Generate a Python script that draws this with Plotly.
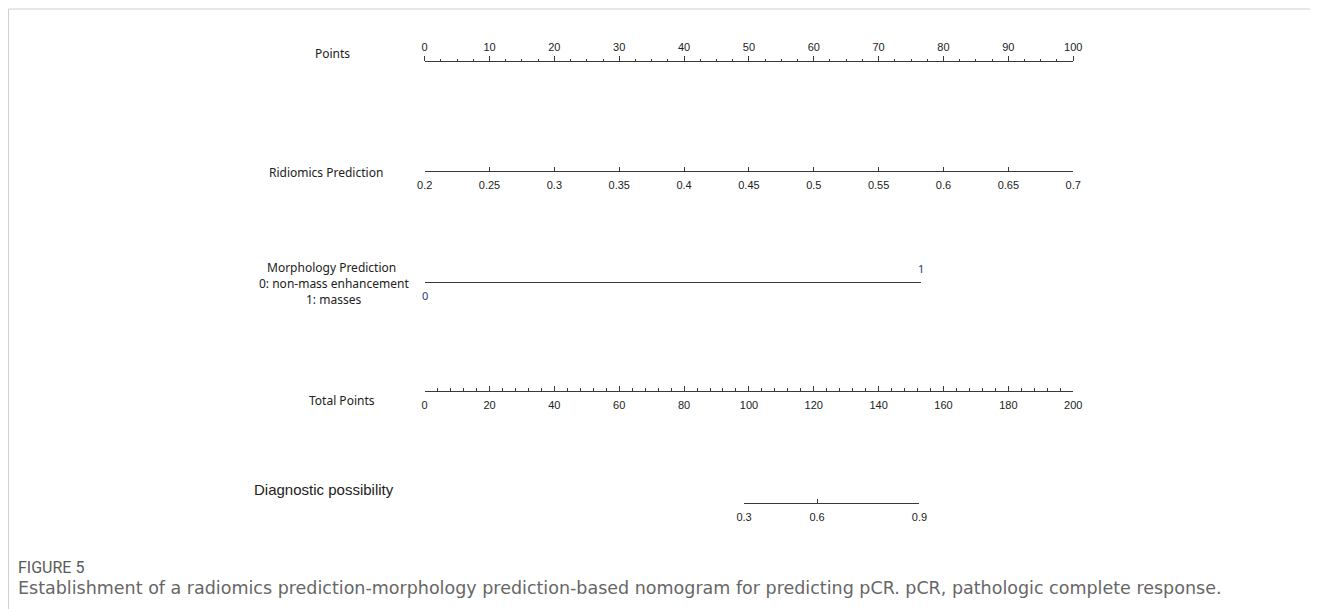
import plotly.graph_objects as go

# ---------------- data ----------------
points_ticks = [0, 10, 20, 30, 40, 50, 60, 70, 80, 90, 100]
ridiomics_ticks = [0.2, 0.25, 0.3, 0.35, 0.4, 0.45, 0.5, 0.55, 0.6, 0.65, 0.7]
ridiomics_tick_text = ["0.2", "0.25", "0.3", "0.35", "0.4", "0.45", "0.5", "0.55", "0.6", "0.65", "0.7"]
morph_levels = ["0", "1"]
morph_points = [0, 76.6]          # points assigned to each morphology level
total_ticks = [0, 20, 40, 60, 80, 100, 120, 140, 160, 180, 200]
diag_labels = ["0.3", "0.6", "0.9"]
diag_total_points = [98.5, 121.0, 152.6]   # total points where probability equals label

# ---------------- layout constants ----------------
W, H = 1319, 609
OFFX, WEFF = 8, 1303          # effective drawing width/offset observed in the viewer


def xpaper(px):
    return (px - OFFX) / WEFF


def ypos(py):
    return 1 - py / H


X0, X1 = 425, 1074            # pixel span of the 0-100 points scale
d0, d1 = xpaper(X0), xpaper(X1)
LINE = "#3a3a3a"
TICKFONT = dict(family="Liberation Sans, Arial, sans-serif", size=11, color="#222222")
LABFONT = dict(family="Noto Sans, DejaVu Sans, sans-serif", size=12, color="#222222")


def sub_domain(lo, hi, vmin, vmax):
    a = d0 + (lo - vmin) / (vmax - vmin) * (d1 - d0)
    b = d0 + (hi - vmin) / (vmax - vmin) * (d1 - d0)
    return [a, b]


fig = go.Figure()

axis_common = dict(showgrid=False, zeroline=False, showline=True, linecolor=LINE,
                   linewidth=1, tickcolor=LINE, tickwidth=1, tickfont=TICKFONT,
                   anchor="free", fixedrange=True)

# Points axis
fig.update_layout(xaxis=dict(axis_common, domain=[d0, d1], range=[0, 100], side="top",
                             position=ypos(61), tickmode="array", tickvals=points_ticks,
                             ticks="outside", ticklen=5, ticklabelstandoff=1,
                             minor=dict(dtick=2.5, ticklen=2, tickcolor=LINE, ticks="outside")))
fig.add_trace(go.Scatter(x=points_ticks, y=[None] * len(points_ticks), xaxis="x", yaxis="y",
                         mode="markers", showlegend=False, hoverinfo="skip"))

# Ridiomics axis
fig.update_layout(xaxis2=dict(axis_common, domain=[d0, d1],
                              range=[ridiomics_ticks[0], ridiomics_ticks[-1]], side="bottom",
                              position=ypos(171), tickmode="array", tickvals=ridiomics_ticks,
                              ticktext=ridiomics_tick_text, ticks="inside", ticklen=4,
                              ticklabelstandoff=4))
fig.add_trace(go.Scatter(x=ridiomics_ticks, y=[None] * len(ridiomics_ticks), xaxis="x2",
                         yaxis="y", mode="markers", showlegend=False, hoverinfo="skip"))

# Morphology axis
fig.update_layout(xaxis3=dict(axis_common, domain=sub_domain(morph_points[0], morph_points[-1], 0, 100),
                              range=[morph_points[0], morph_points[-1]], side="bottom",
                              position=ypos(282), tickmode="array", tickvals=morph_points,
                              ticks="inside", ticklen=5, showticklabels=False))
fig.add_trace(go.Scatter(x=morph_points, y=[None, None], xaxis="x3", yaxis="y",
                         mode="markers", showlegend=False, hoverinfo="skip"))

# Total points axis
fig.update_layout(xaxis4=dict(axis_common, domain=[d0, d1], range=[0, 200], side="bottom",
                              position=ypos(391), tickmode="array", tickvals=total_ticks,
                              ticks="inside", ticklen=5, ticklabelstandoff=4,
                              minor=dict(dtick=4, ticklen=3, tickcolor=LINE, ticks="inside")))
fig.add_trace(go.Scatter(x=total_ticks, y=[None] * len(total_ticks), xaxis="x4", yaxis="y",
                         mode="markers", showlegend=False, hoverinfo="skip"))

# Diagnostic possibility axis
fig.update_layout(xaxis5=dict(axis_common,
                              domain=sub_domain(diag_total_points[0], diag_total_points[-1], 0, 200),
                              range=[diag_total_points[0], diag_total_points[-1]], side="bottom",
                              position=ypos(503), tickmode="array", tickvals=diag_total_points,
                              ticktext=diag_labels, ticks="inside", ticklen=4,
                              ticklabelstandoff=4))
fig.add_trace(go.Scatter(x=diag_total_points, y=[None] * 3, xaxis="x5", yaxis="y",
                         mode="markers", showlegend=False, hoverinfo="skip"))

annotations = []
# morphology level labels
annotations.append(dict(x=morph_points[0], xref="x3", y=ypos(295), yref="paper", text=morph_levels[0],
                        showarrow=False, xanchor="center", yanchor="middle",
                        font=dict(family="Noto Sans, sans-serif", size=11, color="#1f3a7a")))
annotations.append(dict(x=morph_points[1], xref="x3", y=ypos(268), yref="paper", text=morph_levels[1],
                        showarrow=False, xanchor="center", yanchor="middle",
                        font=dict(family="Noto Sans, sans-serif", size=11, color="#1f3a7a")))

# variable names
var_labels = [
    ("Points", 333, 53, LABFONT),
    ("Ridiomics Prediction", 326, 172, LABFONT),
    ("Morphology Prediction", 332, 267, LABFONT),
    ("0: non-mass enhancement", 334, 283, LABFONT),
    ("1: masses", 334, 299, LABFONT),
    ("Total Points", 342, 400, LABFONT),
    ("Diagnostic possibility", 324, 489,
     dict(family="Liberation Sans, Arial, sans-serif", size=15, color="#222222")),
]
for txt, cx, cy, f in var_labels:
    annotations.append(dict(x=xpaper(cx), xref="paper", y=ypos(cy), yref="paper", text=txt,
                            showarrow=False, xanchor="center", yanchor="middle", font=f))

# caption
annotations.append(dict(x=xpaper(16), xref="paper", y=ypos(567), yref="paper", text="FIGURE 5",
                        showarrow=False, xanchor="left", yanchor="middle",
                        font=dict(family="Roboto, sans-serif", size=16, color="#5a5a5a")))
annotations.append(dict(x=xpaper(16), xref="paper", y=ypos(588), yref="paper",
                        text="Establishment of a radiomics prediction-morphology prediction-based nomogram for predicting pCR. pCR, pathologic complete response.",
                        showarrow=False, xanchor="left", yanchor="middle",
                        font=dict(family="DejaVu Sans, sans-serif", size=17.5, color="#666666")))

shapes = [
    dict(type="line", xref="paper", yref="paper", x0=xpaper(8.5), x1=xpaper(8.5), y0=0, y1=ypos(9),
         line=dict(color="#d0d0d0", width=1)),
    dict(type="line", xref="paper", yref="paper", x0=xpaper(8.5), x1=1, y0=ypos(9), y1=ypos(9),
         line=dict(color="#d0d0d0", width=1)),
]

fig.update_layout(
    width=W, height=H, margin=dict(l=0, r=0, t=0, b=0),
    paper_bgcolor="white", plot_bgcolor="rgba(0,0,0,0)",
    yaxis=dict(domain=[0, 1], range=[0, 1], visible=False, fixedrange=True),
    annotations=annotations, shapes=shapes, showlegend=False,
)

fig.write_html(
    "out.html",
    config={"displayModeBar": False},
    post_script=("document.documentElement.style.margin='0';"
                 "document.documentElement.style.overflow='hidden';"
                 "document.body.style.margin='0';"
                 "document.body.style.overflow='hidden';"),
)
